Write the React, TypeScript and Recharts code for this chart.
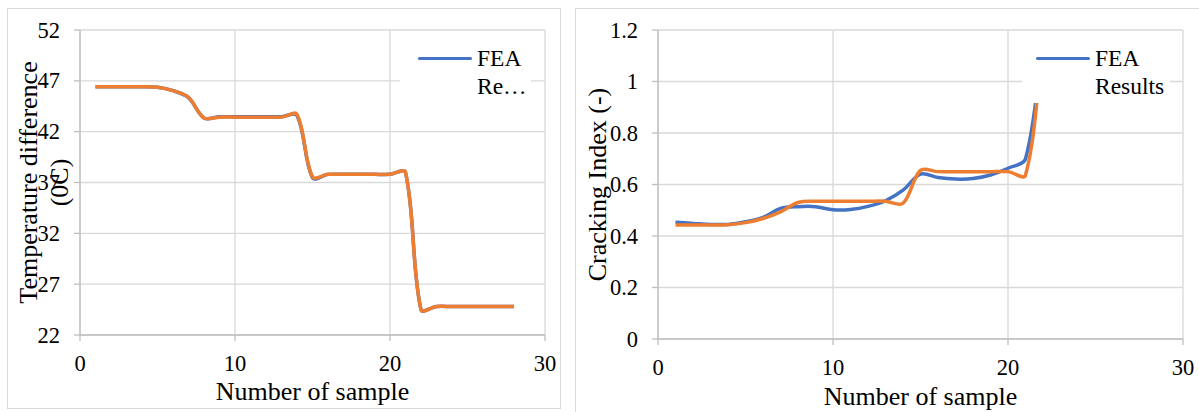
import { LineChart, Line, XAxis, YAxis, CartesianGrid, Legend } from 'recharts';

const FONT = '"Liberation Serif", "Times New Roman", Times, serif';
const BLUE = '#4472C4';
const ORANGE = '#ED7D31';
const GRID = '#d9d9d9';
const AXIS = '#bfbfbf';

// left panel: temperature difference
const SAMPLES_T = [1, 2, 3, 4, 5, 6, 7, 8, 9, 10, 11, 12, 13, 14, 15, 16, 17, 18, 19, 20, 21, 22, 23, 24, 25, 26, 27, 28];
const FEA_T = [46.42, 46.42, 46.42, 46.42, 46.37, 46.03, 45.35, 43.35, 43.47, 43.47, 43.47, 43.47, 43.47, 43.6, 37.45, 37.8, 37.8, 37.8, 37.8, 37.8, 38.0, 24.5, 24.8, 24.8, 24.8, 24.8, 24.8, 24.8];
const MODEL_T = [46.42, 46.42, 46.42, 46.42, 46.37, 46.03, 45.38, 43.35, 43.43, 43.43, 43.43, 43.43, 43.43, 43.7, 37.55, 37.8, 37.8, 37.8, 37.8, 37.8, 38.0, 24.5, 24.8, 24.8, 24.8, 24.8, 24.8, 24.8];
const TEMP_TICKS = [22, 27, 32, 37, 42, 47, 52];

// right panel: cracking index
const SAMPLES_C = [1, 2, 3, 4, 5, 6, 7, 8, 9, 10, 11, 12, 13, 14, 15, 16, 17, 18, 19, 20, 21, 22];
const FEA_C = [0.453, 0.449, 0.445, 0.445, 0.455, 0.472, 0.507, 0.514, 0.514, 0.502, 0.503, 0.515, 0.537, 0.578, 0.64, 0.627, 0.621, 0.623, 0.637, 0.663, 0.7, 1.15];
const MODEL_C = [0.443, 0.443, 0.443, 0.444, 0.452, 0.468, 0.494, 0.53, 0.535, 0.535, 0.535, 0.535, 0.535, 0.527, 0.655, 0.65, 0.65, 0.65, 0.65, 0.65, 0.636, 1.15];
const CI_TICKS = [0, 0.2, 0.4, 0.6, 0.8, 1, 1.2];

const X_TICKS = [0, 10, 20, 30];

const tempData = SAMPLES_T.map((x, i) => ({ x, fea: FEA_T[i], model: MODEL_T[i] }));
const crackData = SAMPLES_C.map((x, i) => ({ x, fea: FEA_C[i], model: MODEL_C[i] }));

// smoothed line like Excel's: bezier tangents scaled by neighbouring segment lengths
function excelSmooth(context: any) {
  let pts: number[][] = [];
  return {
    areaStart() {},
    areaEnd() {},
    lineStart() {
      pts = [];
    },
    point(x: number, y: number) {
      pts.push([+x, +y]);
    },
    lineEnd() {
      const n = pts.length;
      if (!n) return;
      context.moveTo(pts[0][0], pts[0][1]);
      const dist = (a: number[], b: number[]) => Math.hypot(b[0] - a[0], b[1] - a[1]);
      const cIn: number[][] = [];
      const cOut: number[][] = [];
      for (let i = 0; i < n; i++) {
        const p = pts[i];
        const prev = pts[Math.max(i - 1, 0)];
        const next = pts[Math.min(i + 1, n - 1)];
        const dx = next[0] - prev[0];
        const dy = next[1] - prev[1];
        const l1 = dist(prev, p);
        const l2 = dist(p, next);
        const s = l1 + l2 || 1;
        cIn[i] = [p[0] - (dx * l1) / s / 3, p[1] - (dy * l1) / s / 3];
        cOut[i] = [p[0] + (dx * l2) / s / 3, p[1] + (dy * l2) / s / 3];
      }
      for (let i = 0; i < n - 1; i++) {
        context.bezierCurveTo(cOut[i][0], cOut[i][1], cIn[i + 1][0], cIn[i + 1][1], pts[i + 1][0], pts[i + 1][1]);
      }
    },
  };
}

function XTick({ x, y, payload }: any) {
  return (
    <text x={x} y={y + 26} textAnchor="middle" fontSize={22.5} fontFamily={FONT} fill="#000">
      {payload.value}
    </text>
  );
}

function YTick({ x, y, payload }: any) {
  return (
    <text x={x} y={y} textAnchor="end" dominantBaseline="central" fontSize={22.5} fontFamily={FONT} fill="#000">
      {payload.value}
    </text>
  );
}

function Panel({
  data, width, height, margin, yWidth, xHeight, yDomain, yTicks,
  yTitle, yTitleX, xTitleY, legendBox, legendPad, legendLines,
}: any) {
  const plotTop = margin.top;
  const plotH = height - margin.top - margin.bottom - xHeight;
  const plotLeft = margin.left + yWidth;
  const plotW = width - plotLeft - margin.right;
  const cy = plotTop + plotH / 2;

  const renderYTitle = () => (
    <g>
      {yTitle.map((ln: string, i: number) => (
        <text
          key={ln}
          x={yTitleX[i]}
          y={cy}
          transform={`rotate(-90 ${yTitleX[i]} ${cy})`}
          textAnchor="middle"
          dominantBaseline="central"
          fontSize={26}
          fontFamily={FONT}
          fill="#000"
        >
          {ln}
        </text>
      ))}
    </g>
  );

  const renderXTitle = () => (
    <text x={plotLeft + plotW / 2} y={xTitleY} textAnchor="middle" fontSize={26} fontFamily={FONT} fill="#000">
      Number of sample
    </text>
  );

  const renderLegend = (props: any) => {
    const color = props?.payload?.[0]?.color || BLUE;
    return (
      <div style={{ position: 'relative', width: '100%', height: '100%', fontFamily: FONT, fontSize: 23.5, color: '#000' }}>
        <div style={{ position: 'absolute', left: legendPad, top: 18.5, width: 54, height: 3.5, background: color, borderRadius: 2 }} />
        <div style={{ position: 'absolute', left: legendPad + 59, top: 6, lineHeight: '28px', whiteSpace: 'nowrap' }}>
          {legendLines.map((l: string) => (
            <div key={l}>{l}</div>
          ))}
        </div>
      </div>
    );
  };

  return (
    <LineChart width={width} height={height} data={data} margin={margin} style={{ fontFamily: FONT }}>
      <CartesianGrid stroke={GRID} strokeWidth={1.3} />
      <XAxis
        type="number"
        dataKey="x"
        domain={[0, 30]}
        ticks={X_TICKS}
        interval={0}
        height={xHeight}
        tick={<XTick />}
        tickSize={6}
        tickMargin={4}
        axisLine={{ stroke: AXIS, strokeWidth: 1.3 }}
        tickLine={{ stroke: AXIS, strokeWidth: 1.3 }}
        label={renderXTitle}
      />
      <YAxis
        type="number"
        domain={yDomain}
        ticks={yTicks}
        interval={0}
        width={yWidth}
        tick={<YTick />}
        tickSize={6}
        tickMargin={14}
        axisLine={{ stroke: AXIS, strokeWidth: 1.3 }}
        tickLine={{ stroke: AXIS, strokeWidth: 1.3 }}
        label={renderYTitle}
      />
      <Legend
        layout="vertical"
        align="center"
        verticalAlign="middle"
        content={renderLegend}
        wrapperStyle={{ ...legendBox, backgroundColor: '#fff' }}
      />
      <Line
        dataKey="fea"
        name="FEA Results"
        stroke={BLUE}
        strokeWidth={3.5}
        dot={false}
        type={excelSmooth as any}
        isAnimationActive={false}
      />
      <Line
        dataKey="model"
        name="Model"
        legendType="none"
        stroke={ORANGE}
        strokeWidth={3.5}
        dot={false}
        type={excelSmooth as any}
        isAnimationActive={false}
      />
    </LineChart>
  );
}

export default function App() {
  return (
    <div style={{ position: 'absolute', left: 0, top: 0, width: 1199, height: 412, background: '#fff', overflow: 'hidden', fontFamily: FONT }}>
      <div style={{ position: 'absolute', left: 7, top: 8, width: 552, height: 399, border: `1px solid ${GRID}` }}>
        <Panel
          data={tempData}
          width={552}
          height={399}
          margin={{ top: 21, right: 15, left: 12, bottom: 0 }}
          yWidth={60}
          xHeight={73}
          yDomain={[22, 52]}
          yTicks={TEMP_TICKS}
          yTitle={['Temperature difference', '(0C)']}
          yTitleX={[20, 51]}
          xTitleY={391}
          legendBox={{ left: 392, top: 29, width: 131, height: 65 }}
          legendPad={18}
          legendLines={['FEA', 'Re…']}
        />
      </div>
      <div style={{ position: 'absolute', left: 575, top: 8, width: 624, height: 404, border: `1px solid ${GRID}` }}>
        <Panel
          data={crackData}
          width={624}
          height={404}
          margin={{ top: 21, right: 17, left: 12, bottom: 0 }}
          yWidth={70}
          xHeight={74}
          yDomain={[0, 1.2]}
          yTicks={CI_TICKS}
          yTitle={['Cracking Index (-)']}
          yTitleX={[21]}
          xTitleY={396}
          legendBox={{ left: 446, top: 29, width: 148, height: 65 }}
          legendPad={14}
          legendLines={['FEA', 'Results']}
        />
      </div>
    </div>
  );
}
